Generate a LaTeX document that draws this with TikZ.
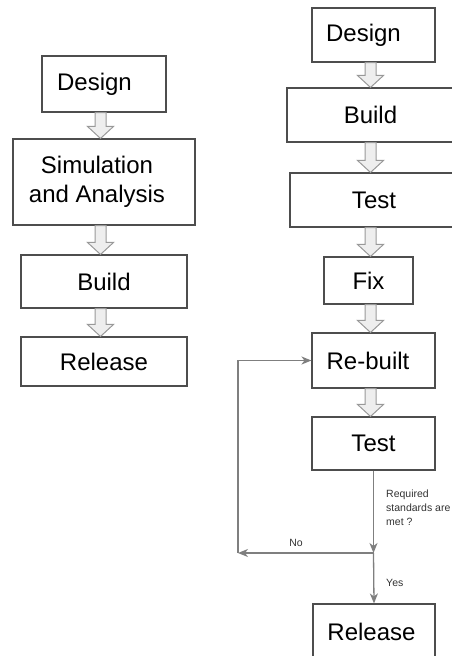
\documentclass[tikz,border=0pt]{standalone}
\usepackage{fontspec}
\setmainfont{Liberation Sans}
\usetikzlibrary{arrows.meta,calc}
\definecolor{boxline}{HTML}{4D4D4D}
\definecolor{arrfill}{HTML}{EEEEEE}
\definecolor{arrline}{HTML}{999999}
\definecolor{conn}{HTML}{7F7F7F}
\newcommand\blockarr[3]{%
  \draw[blockarrow] ($(#1.south -| #3)+(-5.5,0)$) -- ($(#2.north -| #3)+(-5.5,-12)$)
    -- ($(#2.north -| #3)+(-13,-12)$) -- (#2.north -| #3)
    -- ($(#2.north -| #3)+(13,-12)$) -- ($(#2.north -| #3)+(5.5,-12)$)
    -- ($(#1.south -| #3)+(5.5,0)$) -- cycle;}
\begin{document}
\begin{tikzpicture}[x=1pt,y=-1pt,
  box/.style={draw=boxline,line width=1.1pt,fill=white,inner sep=0pt,align=center,
    font=\fontsize{24}{29}\selectfont},
  blockarrow/.style={draw=arrline,fill=arrfill,line width=1pt,line join=miter},
  conn/.style={draw=conn,line width=1.3pt,-{Stealth[length=10pt,width=8pt,inset=3pt]}},
  small/.style={font=\fontsize{10.5}{14}\selectfont,text=black!80,inner sep=0pt,align=left}]
\useasboundingbox (0,0) rectangle (452,656);
\clip (0,0) rectangle (452,656);
% left column
\node[box,minimum width=124pt,minimum height=56pt] (d1) at (104,84) {Design\hspace*{19pt}};
\node[box,minimum width=182pt,minimum height=86pt] (s1) at (104,182) {Simulation\hspace*{14pt}\\and Analysis\hspace*{14pt}};
\node[box,minimum width=166pt,minimum height=53pt] (b1) at (104,281.5) {Build};
\node[box,minimum width=166pt,minimum height=49pt] (r1) at (104,361.5) {Release};
\coordinate (lx) at (100.5,0);
\blockarr{d1}{s1}{lx}
\blockarr{s1}{b1}{lx}
\blockarr{b1}{r1}{lx}
% right column
\node[box,minimum width=123pt,minimum height=54pt] (d2) at (373.5,35) {Design\hspace*{20pt}};
\node[box,minimum width=167pt,minimum height=54pt] (b2) at (370.5,115) {Build};
\node[box,minimum width=168pt,minimum height=54pt] (t2) at (374,200) {Test};
\node[box,minimum width=89pt,minimum height=47pt] (f2) at (368.5,280.5) {Fix};
\node[box,minimum width=123pt,minimum height=55pt] (rb) at (373.5,360.5) {Re-built\hspace*{11pt}};
\node[box,minimum width=123pt,minimum height=53pt] (t3) at (373.5,443.5) {Test};
\node[box,minimum width=122pt,minimum height=56pt] (r2) at (374,632) {Release\hspace*{5pt}};
\coordinate (rx) at (370.5,0);
\blockarr{d2}{b2}{rx}
\blockarr{b2}{t2}{rx}
\blockarr{t2}{f2}{rx}
\blockarr{f2}{rb}{rx}
\blockarr{rb}{t3}{rx}
% decision loop
\coordinate (j) at (373.5,553);
\coordinate (l) at (238,553);
\draw[conn] (t3.south) -- (j);
\draw[conn] (j) -- (r2.north);
\draw[conn] (j) -- (l);
\draw[conn] (l) |- (rb.west);
\node[small,anchor=west] (q) at (386,508) {Required\\standards are\\met ?};
\node[small] (no) at (296,543) {No};
\node[small,anchor=west] (yes) at (386,583) {Yes};
\end{tikzpicture}
\end{document}
